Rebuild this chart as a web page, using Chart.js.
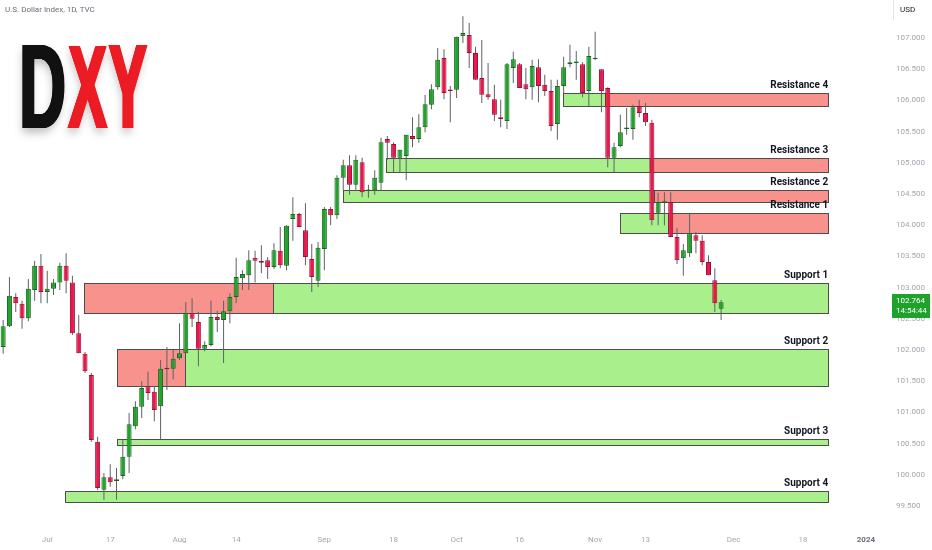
<!DOCTYPE html>
<html>
<head>
<meta charset="utf-8">
<script src="https://cdn.jsdelivr.net/npm/chart.js@4.4.0/dist/chart.umd.min.js"></script>
<style>
  html, body { margin: 0; padding: 0; background: #fff; }
</style>
</head>
<body>
<canvas id="dxy" width="932" height="550"></canvas>
<script>
// daily candles, U.S. Dollar Index (TVC), 22 Jun 2023 -> 29 Nov 2023
const opens = [
  102.05,102.38,102.85,102.74,102.51,102.96,103.35,102.93,102.98,103.08,
  103.35,103.08,102.27,101.94,101.60,100.53,99.76,99.96,99.90,99.98,
  100.29,100.78,101.09,101.42,101.33,101.10,101.70,101.70,101.87,101.95,
  102.59,102.45,102.02,102.08,102.53,102.48,102.62,102.85,103.15,103.20,
  103.48,103.43,103.44,103.33,103.59,103.35,104.10,104.18,103.92,103.46,
  103.11,103.62,104.26,104.16,104.76,104.96,104.65,105.01,104.55,104.56,
  104.68,105.38,105.30,105.08,105.11,105.43,105.38,105.57,105.93,106.21,
  106.68,106.17,106.17,107.03,107.05,106.76,106.36,106.10,106.02,105.73,
  105.67,106.52,106.58,106.26,106.21,106.53,106.25,106.15,105.62,106.23,
  106.58,106.60,106.58,106.15,106.66,106.50,106.20,105.08,105.27,105.54,
  105.54,105.91,105.80,105.64,104.20,104.36,104.37,103.81,103.47,103.55,
  103.84,103.75,103.41,103.12,102.66
];
const highs = [
  102.48,103.17,102.91,102.79,103.14,103.43,103.54,103.27,103.14,103.40,
  103.55,103.19,102.56,101.97,101.63,100.61,100.03,100.17,100.11,100.56,
  100.99,101.18,101.50,101.65,101.42,101.84,102.05,102.00,102.43,102.77,
  102.83,102.61,102.14,102.79,102.63,102.79,102.91,103.48,103.28,103.60,
  103.59,103.68,103.49,103.71,103.97,104.00,104.45,104.20,104.35,103.70,
  103.73,104.29,104.29,104.80,105.05,105.12,105.12,105.08,104.65,104.88,
  105.40,105.43,105.33,105.21,105.45,105.73,105.78,106.09,106.26,106.84,
  106.82,106.23,107.02,107.35,107.24,106.86,106.97,106.60,106.25,106.01,
  106.60,106.78,106.60,106.52,106.65,106.66,106.41,106.33,106.33,106.70,
  106.89,106.79,106.61,106.86,107.10,106.50,106.21,105.32,105.77,105.88,
  105.93,106.01,105.96,105.69,104.52,104.53,104.53,103.95,103.70,104.20,
  103.89,103.84,103.52,103.31,102.80
];
const lows = [
  101.94,102.37,102.61,102.34,102.46,102.79,102.75,102.75,102.88,102.96,
  102.91,102.24,101.95,101.63,100.53,99.76,99.60,99.81,99.60,99.93,
  100.03,100.73,100.91,101.20,100.86,100.57,101.36,101.53,101.84,101.95,
  102.37,101.74,101.98,102.06,102.29,101.79,102.43,102.75,102.96,102.96,
  103.08,103.23,103.14,103.30,103.31,103.28,103.75,103.97,103.36,102.93,
  103.01,103.28,104.00,104.10,104.56,104.49,104.56,104.45,104.44,104.49,
  104.56,105.05,104.84,104.84,104.72,105.25,105.32,105.49,105.86,106.17,
  106.02,105.65,106.04,106.92,106.52,106.33,105.96,106.01,105.67,105.57,
  105.54,106.28,106.20,106.02,106.01,105.97,106.07,105.51,105.37,106.12,
  106.53,106.33,106.05,105.91,106.65,105.81,104.93,104.84,105.25,105.45,
  105.37,105.73,105.59,104.00,104.00,104.00,103.81,103.38,103.19,103.49,
  103.55,103.36,103.20,102.61,102.48
];
const closes = [
  102.38,102.87,102.75,102.51,102.98,103.35,102.93,102.98,103.08,103.35,
  103.11,102.27,101.95,101.66,100.56,99.79,99.96,99.88,99.93,100.29,
  100.81,101.09,101.39,101.31,101.04,101.70,101.69,101.86,101.95,102.59,
  102.50,102.02,102.08,102.53,102.48,102.62,102.85,103.17,103.22,103.44,
  103.43,103.40,103.33,103.60,103.36,103.99,104.18,103.97,103.49,103.17,
  103.64,104.26,104.16,104.76,104.96,104.65,105.05,104.53,104.55,104.76,
  105.33,105.32,105.08,105.21,105.45,105.38,105.57,105.94,106.18,106.65,
  106.12,106.15,107.02,107.08,106.76,106.33,106.09,106.05,105.77,105.70,
  106.58,106.66,106.20,106.18,106.55,106.23,106.15,105.59,106.23,106.53,
  106.61,106.60,106.12,106.71,106.66,106.15,105.08,105.25,105.49,105.54,
  105.89,105.80,105.65,104.08,104.37,104.37,103.81,103.44,103.60,103.87,
  103.75,103.41,103.20,102.75,102.764
];

// support / resistance boxes (bar index from / colour switch / to)
const zoneLabels = ['Resistance 4','Resistance 3','Resistance 2','Resistance 1','Support 1','Support 2','Support 3','Support 4'];
const zoneHigh   = [106.12, 105.08, 104.56, 104.20, 103.07, 102.02, 100.57, 99.74];
const zoneLow    = [105.91, 104.85, 104.37, 103.87, 102.59, 101.42, 100.48, 99.56];
const zoneFrom   = [88.9, 60.8, 54.0, 98.0, 12.9, 18.0, 18.0, 9.9];
const zoneSwitch = [95.6, 102.7, 103.3, 105.6, 42.9, 28.9, null, null];
const zoneFirst  = ['g','g','g','g','r','r','g','g'];
const zoneEnd = 131;

const priceTicks = [99.5,100,100.5,101,101.5,102,102.5,103,103.5,104,104.5,105,105.5,106,106.5,107];
const timeTicks = {
  '2023-07-03':'Jul', '2023-07-17':'17', '2023-08-01':'Aug', '2023-08-14':'14',
  '2023-09-01':'Sep', '2023-09-18':'18', '2023-10-02':'Oct', '2023-10-16':'16',
  '2023-11-01':'Nov', '2023-11-13':'13', '2023-12-01':'Dec', '2023-12-18':'18',
  '2024-01-01':'2024'
};

// trading days on the time axis (weekdays, past the last candle too)
const days = [];
for (let d = new Date(Date.UTC(2023, 5, 22)); d <= new Date(Date.UTC(2024, 0, 4)); d.setUTCDate(d.getUTCDate() + 1)) {
  const wd = d.getUTCDay();
  if (wd === 0 || wd === 6) continue;
  days.push(d.toISOString().slice(0, 10));
}

const UP = '#22a12c', UP_LINE = '#16661d';
const DOWN = '#e8174c', DOWN_LINE = '#9b1033';
const ZONE_RED = '#f7928c', ZONE_GREEN = '#a9f08c';
const FONT = 'Roboto, "Liberation Sans", sans-serif';

const isUp = i => closes[i] >= opens[i];

const zonesPlugin = {
  id: 'zones',
  beforeDatasetsDraw(chart) {
    const { ctx, scales: { x, y } } = chart;
    ctx.save();
    ctx.lineWidth = 1;
    ctx.strokeStyle = '#4d4d4d';
    zoneLabels.forEach((name, k) => {
      const top = Math.round(y.getPixelForValue(zoneHigh[k])) + 0.5;
      const bot = Math.round(y.getPixelForValue(zoneLow[k])) + 0.5;
      const x0 = Math.round(x.getPixelForValue(zoneFrom[k])) + 0.5;
      const x2 = Math.round(x.getPixelForValue(zoneEnd)) + 0.5;
      const x1 = zoneSwitch[k] == null ? x2 : Math.round(x.getPixelForValue(zoneSwitch[k])) + 0.5;
      const c1 = zoneFirst[k] === 'r' ? ZONE_RED : ZONE_GREEN;
      const c2 = zoneFirst[k] === 'r' ? ZONE_GREEN : ZONE_RED;
      ctx.fillStyle = c1;
      ctx.fillRect(x0, top, x1 - x0, bot - top);
      ctx.strokeRect(x0, top, x1 - x0, bot - top);
      if (x1 < x2) {
        ctx.fillStyle = c2;
        ctx.fillRect(x1, top, x2 - x1, bot - top);
        ctx.strokeRect(x1, top, x2 - x1, bot - top);
      }
    });
    ctx.restore();
  },
  afterDraw(chart) {
    const { ctx, scales: { x, y } } = chart;
    ctx.save();
    // zone names
    ctx.fillStyle = '#131722';
    ctx.font = 'bold 10px ' + FONT;
    ctx.textAlign = 'right';
    ctx.textBaseline = 'alphabetic';
    zoneLabels.forEach((name, k) => {
      ctx.fillText(name, x.getPixelForValue(zoneEnd), y.getPixelForValue(zoneHigh[k]) - 5);
    });

    // title + currency
    ctx.textAlign = 'left';
    ctx.textBaseline = 'middle';
    ctx.font = '8px ' + FONT;
    ctx.fillStyle = '#6a6d78';
    ctx.fillText('U.S. Dollar Index, 1D, TVC', 5, 10);
    ctx.fillStyle = '#131722';
    ctx.fillText('USD', 900, 10);
    ctx.strokeStyle = '#e0e3eb';
    ctx.beginPath();
    ctx.moveTo(893.5, 0); ctx.lineTo(893.5, 20);
    ctx.stroke();

    // last price badge
    const last = closes[closes.length - 1];
    const py = Math.round(y.getPixelForValue(last));
    ctx.fillStyle = '#1fa22b';
    ctx.fillRect(892, py - 8, 38, 24);
    ctx.fillStyle = '#ffffff';
    ctx.font = '8px ' + FONT;
    ctx.fillText(last.toFixed(3), 896, py - 1);
    ctx.fillText('14:54:44', 896, py + 9);

    // DXY logo (condensed, faux-bold by repeated horizontal passes)
    const letters = [['D', '#111111', 22, 65], ['X', '#ec1c24', 67, 108], ['Y', '#ec1c24', 108, 148]];
    const top = 45, bottom = 128, heavy = 2.5;
    ctx.font = 'bold 100px "Liberation Sans", Arial, sans-serif';
    ctx.textAlign = 'left';
    ctx.textBaseline = 'alphabetic';
    letters.forEach(([ch, col, l, r]) => {
      const m = ctx.measureText(ch);
      const w = m.actualBoundingBoxRight + m.actualBoundingBoxLeft;
      const h = m.actualBoundingBoxAscent + m.actualBoundingBoxDescent;
      const sx = (r - l - heavy) / w, sy = (bottom - top) / h;
      for (let pass = 0; pass < 2; pass++) {
        if (pass === 0) {
          ctx.shadowColor = 'rgba(0,0,0,0.25)';
          ctx.shadowBlur = 8;
          ctx.shadowOffsetY = 5;
        } else {
          ctx.shadowColor = 'transparent';
        }
        for (let dx = 0; dx <= heavy; dx += 0.5) {
          ctx.save();
          ctx.translate(l + dx, bottom);
          ctx.scale(sx, sy);
          ctx.fillStyle = col;
          ctx.fillText(ch, m.actualBoundingBoxLeft, -m.actualBoundingBoxDescent);
          ctx.restore();
          if (pass === 0) break;
        }
      }
    });
    ctx.restore();
  }
};

new Chart(document.getElementById('dxy'), {
  type: 'bar',
  data: {
    labels: days,
    datasets: [
      {
        label: 'body',
        data: opens.map((o, i) => [o, closes[i]]),
        backgroundColor: opens.map((o, i) => isUp(i) ? UP : DOWN),
        borderColor: opens.map((o, i) => isUp(i) ? UP_LINE : DOWN_LINE),
        borderWidth: 1,
        borderSkipped: false,
        barThickness: 5,
        minBarLength: 1.5,
        inflateAmount: 0,
        grouped: false
      },
      {
        label: 'wick',
        data: lows.map((l, i) => [l, highs[i]]),
        backgroundColor: '#5f6168',
        borderWidth: 0,
        barThickness: 1,
        inflateAmount: 0,
        grouped: false
      }
    ]
  },
  options: {
    responsive: false,
    animation: false,
    layout: { padding: 0 },
    plugins: { legend: { display: false }, tooltip: { enabled: false } },
    scales: {
      x: {
        type: 'category',
        offset: true,
        grid: { display: false, drawTicks: false },
        border: { display: false },
        ticks: {
          autoSkip: false,
          maxRotation: 0,
          padding: 13,
          font: ctx => ({ family: FONT, size: 8, weight: ctx.tick && ctx.tick.label === '2024' ? 'bold' : 'normal' }),
          color: ctx => ctx.tick && ctx.tick.label === '2024' ? '#6a6d78' : '#a3a6af',
          callback: function (val) { return timeTicks[this.getLabelForValue(val)] || ''; }
        },
        afterFit: s => { s.height = 28; s.paddingLeft = 0; s.paddingRight = 0; }
      },
      y: {
        position: 'right',
        min: 99.244,
        max: 107.609,
        grid: { display: false, drawTicks: false },
        border: { display: false },
        ticks: {
          padding: 8,
          color: '#a3a6af',
          font: { family: FONT, size: 8 },
          callback: v => Number(v).toFixed(3)
        },
        afterBuildTicks: s => { s.ticks = priceTicks.map(v => ({ value: v })); },
        afterFit: s => { s.width = 44; s.paddingTop = 0; s.paddingBottom = 0; }
      }
    }
  },
  plugins: [zonesPlugin]
});
</script>
</body>
</html>
